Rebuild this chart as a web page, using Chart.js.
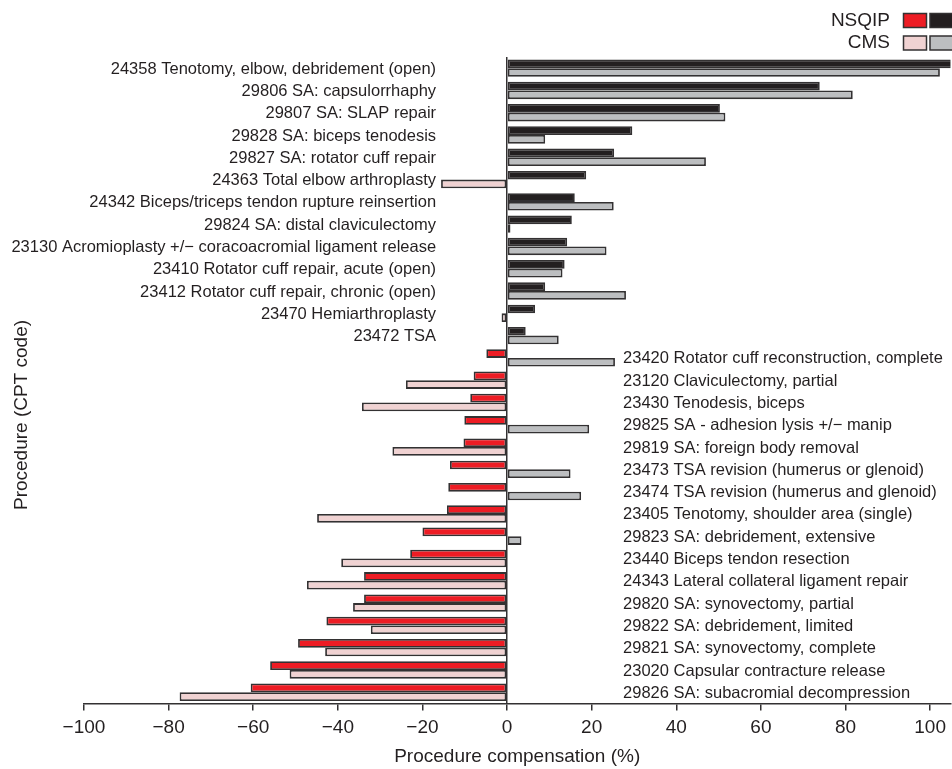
<!DOCTYPE html>
<html>
<head>
<meta charset="utf-8">
<title>Procedure compensation by CPT code</title>
<script src="https://cdn.jsdelivr.net/npm/chart.js@4/dist/chart.umd.min.js"></script>
<style>
  html, body { margin: 0; padding: 0; background: #ffffff; }
  #wrap { width: 952px; height: 769px; position: relative; }
</style>
</head>
<body>
<div id="wrap"><canvas id="chart"></canvas></div>
<script>
// Procedures (CPT code and description), top to bottom
const procedures = [
  "24358 Tenotomy, elbow, debridement (open)",
  "29806 SA: capsulorrhaphy",
  "29807 SA: SLAP repair",
  "29828 SA: biceps tenodesis",
  "29827 SA: rotator cuff repair",
  "24363 Total elbow arthroplasty",
  "24342 Biceps/triceps tendon rupture reinsertion",
  "29824 SA: distal claviculectomy",
  "23130 Acromioplasty +/\u2212 coracoacromial ligament release",
  "23410 Rotator cuff repair, acute (open)",
  "23412 Rotator cuff repair, chronic (open)",
  "23470 Hemiarthroplasty",
  "23472 TSA",
  "23420 Rotator cuff reconstruction, complete",
  "23120 Claviculectomy, partial",
  "23430 Tenodesis, biceps",
  "29825 SA - adhesion lysis +/\u2212 manip",
  "29819 SA: foreign body removal",
  "23473 TSA revision (humerus or glenoid)",
  "23474 TSA revision (humerus and glenoid)",
  "23405 Tenotomy, shoulder area (single)",
  "29823 SA: debridement, extensive",
  "23440 Biceps tendon resection",
  "24343 Lateral collateral ligament repair",
  "29820 SA: synovectomy, partial",
  "29822 SA: debridement, limited",
  "29821 SA: synovectomy, complete",
  "23020 Capsular contracture release",
  "29826 SA: subacromial decompression"
];

// Procedure compensation (%) per source
const nsqip = [
  112, 73.9, 50.3, 29.6, 25.3, 18.7, 16.0, 15.3, 14.2, 13.6, 9.0, 6.6, 4.4,
  -4.9, -7.9, -8.7, -10.1, -10.3, -13.5, -13.9, -14.2, -20.0, -22.9,
  -33.8, -33.8, -42.7, -49.4, -56.0, -60.6
];
const cms = [
  102.3, 81.7, 51.6, 9.0, 47.0, -15.6, 25.2, 0.8, 23.5, 13.1, 28.1, -1.3, 12.2,
  25.5, -23.9, -34.3, 19.4, -27.1, 15.0, 17.5, -44.9, 3.4, -39.2,
  -47.3, -36.4, -32.2, -43.0, -51.4, -77.4
];

// Axis ticks
const xTicks = [-100, -80, -60, -40, -20, 0, 20, 40, 60, 80, 100];

const FONT = "'Liberation Sans', Arial, Helvetica, sans-serif";
const INK = '#231f20';
const EDGE = '#333132';
const COLORS = {
  nsqipNeg: '#ed1c24', nsqipPos: '#231f20',
  cmsNeg: '#f0d2d2', cmsPos: '#bcbec0'
};

function signColor(neg, pos) {
  return ctx => (ctx.raw < 0 ? neg : pos);
}

// Procedure names beside the zero line, legend and y title
const annotate = {
  id: 'annotate',
  afterDraw(chart) {
    const { ctx } = chart;
    const xs = chart.scales.x, ys = chart.scales.y;
    const x0 = xs.getPixelForValue(0);
    ctx.save();
    ctx.fillStyle = INK;
    ctx.font = `16.5px ${FONT}`;
    ctx.textBaseline = 'middle';
    procedures.forEach((name, i) => {
      const y = ys.getPixelForValue(i) + 1;
      if (nsqip[i] >= 0) {
        ctx.textAlign = 'right';
        ctx.fillText(name, x0 - 71, y);
      } else {
        ctx.textAlign = 'left';
        ctx.fillText(name, x0 + 116, y);
      }
    });

    // legend
    ctx.font = `19px ${FONT}`;
    ctx.textAlign = 'right';
    const rows = [
      { label: 'NSQIP', y: 20.5, c: [COLORS.nsqipNeg, COLORS.nsqipPos] },
      { label: 'CMS', y: 43, c: [COLORS.cmsNeg, COLORS.cmsPos] }
    ];
    rows.forEach(r => {
      ctx.fillStyle = INK;
      ctx.fillText(r.label, 890, r.y);
      r.c.forEach((col, k) => {
        const bx = 903.5 + k * 26.5, by = r.y - 7;
        ctx.fillStyle = col;
        ctx.fillRect(bx, by, 23, 14);
        ctx.strokeStyle = EDGE;
        ctx.lineWidth = 1.5;
        ctx.strokeRect(bx, by, 23, 14);
      });
    });

    // y axis title
    ctx.fillStyle = INK;
    ctx.font = `19px ${FONT}`;
    ctx.translate(22, 415);
    ctx.rotate(-Math.PI / 2);
    ctx.textAlign = 'center';
    ctx.fillText('Procedure (CPT code)', 0, 0);
    ctx.restore();
  }
};

new Chart(document.getElementById('chart'), {
  type: 'bar',
  data: {
    labels: procedures,
    datasets: [
      {
        label: 'NSQIP',
        data: nsqip,
        backgroundColor: signColor(COLORS.nsqipNeg, COLORS.nsqipPos),
        borderColor: EDGE,
        borderWidth: 1.8
      },
      {
        label: 'CMS',
        data: cms,
        backgroundColor: signColor(COLORS.cmsNeg, COLORS.cmsPos),
        borderColor: EDGE,
        borderWidth: 1.8
      }
    ]
  },
  options: {
    indexAxis: 'y',
    responsive: true,
    maintainAspectRatio: false,
    animation: false,
    devicePixelRatio: 1,
    layout: { padding: { left: 84, right: 0, top: 57, bottom: 0 } },
    datasets: {
      bar: { categoryPercentage: 0.78, barPercentage: 1.0, borderSkipped: false }
    },
    plugins: {
      legend: { display: false },
      tooltip: { enabled: false }
    },
    scales: {
      y: { display: false, offset: true },
      x: {
        type: 'linear',
        min: -100,
        max: 104.8,
        afterBuildTicks(scale) {
          scale.ticks = xTicks.map(v => ({ value: v }));
        },
        ticks: {
          color: INK,
          font: { family: FONT, size: 19 },
          padding: 6,
          maxRotation: 0,
          autoSkip: false,
          callback: v => (v < 0 ? '\u2212' + Math.abs(v) : String(v))
        },
        grid: {
          drawOnChartArea: true,
          color: ctx => (ctx.tick && ctx.tick.value === 0 ? EDGE : 'rgba(0,0,0,0)'),
          lineWidth: 1.5,
          tickColor: EDGE,
          tickLength: 7,
          tickWidth: 1.5
        },
        border: { display: true, color: EDGE, width: 1.5 },
        title: {
          display: true,
          text: 'Procedure compensation (%)',
          color: INK,
          font: { family: FONT, size: 19 },
          padding: { top: 0, bottom: 1 }
        }
      }
    }
  },
  plugins: [annotate]
});
</script>
</body>
</html>
